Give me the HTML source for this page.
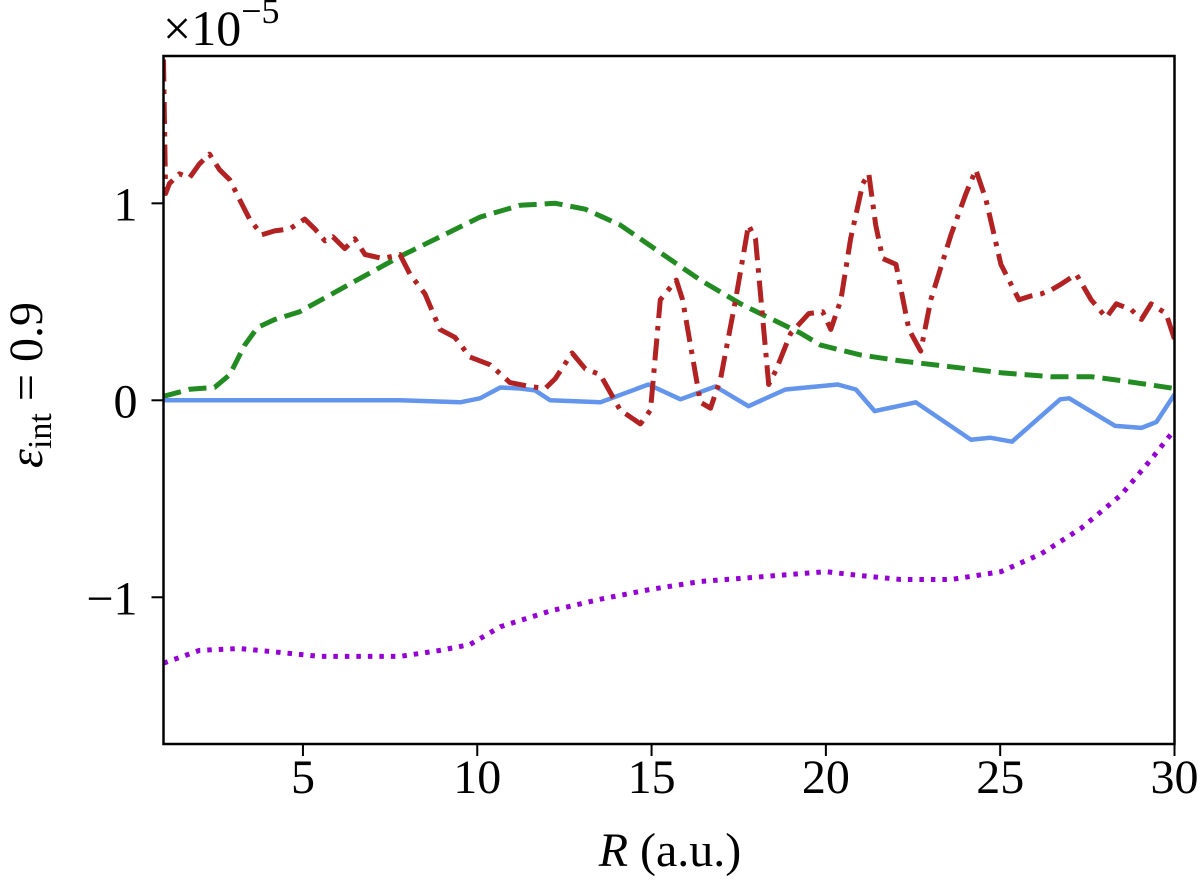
<!DOCTYPE html>
<html><head><meta charset="utf-8"><style>
html,body{margin:0;padding:0;background:#fff}
svg{display:block}
text{font-family:"Liberation Serif","DejaVu Serif",serif;fill:#000}
</style></head><body>
<svg id="chart" width="1200" height="889" viewBox="0 0 1200 889" xmlns="http://www.w3.org/2000/svg">
<g id="series"></g>
<rect x="163.5" y="56" width="1011" height="688" fill="none" stroke="#000" stroke-width="2.5"/>
<g id="ticks"></g>
<text x="163" y="45" font-size="50">×10<tspan font-size="36" dy="-22">−5</tspan></text>
<text x="670" y="866" font-size="48" text-anchor="middle"><tspan font-style="italic">R</tspan> (a.u.)</text>
<text transform="translate(42,385) rotate(-90)" font-size="48" text-anchor="middle"><tspan font-style="italic">ε</tspan><tspan font-size="34" dy="9">int</tspan><tspan dy="-9"> = 0.9</tspan></text>
</svg>
<script>
const xTicks=[5,10,15,20,25,30];
const yTicks=[-1,0,1];
const yTickLabels=["−1","0","1"];
const redR=[1.0,1.06,1.17,1.46,1.75,2.03,2.32,2.61,2.90,3.18,3.47,3.82,4.19,4.62,5.05,5.34,5.63,5.86,6.20,6.49,6.78,7.29,7.78,8.07,8.50,8.93,9.36,9.79,10.37,10.94,11.52,11.95,12.24,12.72,13.10,13.53,14.10,14.68,14.97,15.25,15.71,15.89,16.40,16.69,16.98,17.41,17.78,17.98,18.36,18.56,18.99,19.51,19.91,20.14,20.43,20.71,21.06,21.23,21.43,21.63,22.01,22.38,22.72,23.01,23.59,24.02,24.30,24.59,25.02,25.54,25.89,26.17,26.46,26.75,27.18,27.61,28.04,28.33,28.76,29.05,29.33,29.76,30.0];
const redV=[1.73,1.05,1.10,1.15,1.13,1.20,1.25,1.17,1.12,1.02,0.92,0.84,0.86,0.87,0.92,0.87,0.81,0.83,0.77,0.82,0.74,0.72,0.74,0.64,0.54,0.36,0.32,0.22,0.18,0.09,0.07,0.06,0.11,0.24,0.16,0.13,-0.05,-0.12,-0.05,0.51,0.61,0.51,-0.01,-0.04,0.11,0.51,0.89,0.82,0.08,0.15,0.34,0.44,0.45,0.36,0.51,0.82,1.10,1.15,0.89,0.72,0.69,0.36,0.25,0.51,0.84,1.05,1.17,1.02,0.69,0.51,0.53,0.54,0.56,0.59,0.64,0.51,0.42,0.49,0.46,0.41,0.49,0.44,0.31];
const greenR=[1,1.75,2.47,2.9,3.33,3.70,4.19,4.91,6.34,7.78,8.93,10.08,11.23,12.24,13.10,14.10,15.25,16.40,17.55,19.28,19.85,21.0,22.15,23.59,25.02,26.46,27.61,28.47,30];
const greenV=[0.02,0.056,0.066,0.13,0.28,0.37,0.41,0.45,0.59,0.73,0.83,0.93,0.99,1.0,0.97,0.89,0.75,0.61,0.49,0.34,0.28,0.23,0.20,0.17,0.14,0.12,0.12,0.10,0.06];
const blueR=[1,4.91,7.78,9.51,10.08,10.66,11.23,11.66,12.09,13.53,14.91,15.83,16.83,17.78,18.84,20.34,20.86,21.40,22.58,24.16,24.71,25.34,26.72,26.98,28.30,29.05,29.48,30];
const blueV=[0,0,0,-0.01,0.01,0.065,0.06,0.05,0.0,-0.01,0.08,0.005,0.07,-0.03,0.055,0.08,0.055,-0.055,-0.01,-0.2,-0.19,-0.21,0.005,0.01,-0.13,-0.14,-0.11,0.03];
const purpleR=[1,2.03,3.18,4.33,5.48,6.63,7.78,8.93,9.79,10.66,12.09,13.53,14.97,16.40,17.84,19.28,20.0,21.0,22.15,23.59,25.02,26.17,27.32,28.47,29.33,30];
const purpleV=[-1.335,-1.27,-1.26,-1.28,-1.30,-1.30,-1.30,-1.27,-1.24,-1.15,-1.07,-1.01,-0.96,-0.92,-0.90,-0.88,-0.87,-0.89,-0.91,-0.91,-0.87,-0.78,-0.65,-0.48,-0.30,-0.15];

const X0=163.5,X1=1174.5,Y0=744,Y1=56;
const xMin=1,xMax=30,yMin=-1.745,yMax=1.748;
function sx(v){return X0+(v-xMin)/(xMax-xMin)*(X1-X0);}
function sy(v){return Y0-(v-yMin)/(yMax-yMin)*(Y0-Y1);}
const NS="http://www.w3.org/2000/svg";
const series=document.getElementById('series');
const ticks=document.getElementById('ticks');

const clip=document.createElementNS(NS,'clipPath');
clip.setAttribute('id','clipPlot');
const cr=document.createElementNS(NS,'rect');
cr.setAttribute('x',X0);cr.setAttribute('y',Y1);cr.setAttribute('width',X1-X0);cr.setAttribute('height',Y0-Y1);
clip.appendChild(cr);
series.appendChild(clip);
series.setAttribute('clip-path','url(#clipPlot)');

function line(xs,ys,color,dash,w,name){
  const p=document.createElementNS(NS,'path');
  let d='';
  for(let i=0;i<xs.length;i++){d+=(i?'L':'M')+sx(xs[i]).toFixed(1)+','+sy(ys[i]).toFixed(1);}
  p.setAttribute('d',d);
  p.setAttribute('fill','none');
  p.setAttribute('stroke',color);
  p.setAttribute('stroke-width',w);
  p.setAttribute('stroke-linejoin','round');
  if(dash)p.setAttribute('stroke-dasharray',dash);
  
  
  series.appendChild(p);
}
line(purpleR,purpleV,'#9400d3','4.5 7',5,'purple-dotted-line');
line(greenR,greenV,'#228b22','18 8',5,'green-dashed-line');
line(blueR,blueV,'#6495ed','',4.5,'blue-solid-line');
line(redR,redV,'#b22222','22 8 4.5 8',5,'red-dashdot-line');

xTicks.forEach(function(v){
  const t=document.createElementNS(NS,'line');
  t.setAttribute('x1',sx(v));t.setAttribute('x2',sx(v));t.setAttribute('y1',Y0);t.setAttribute('y2',Y0+12);
  t.setAttribute('stroke','#000');t.setAttribute('stroke-width','2');
  
  
  ticks.appendChild(t);
  const l=document.createElementNS(NS,'text');
  l.setAttribute('x',sx(v));l.setAttribute('y',Y0+49);l.setAttribute('font-size','48');l.setAttribute('text-anchor','middle');
  l.textContent=String(v);
  
  
  ticks.appendChild(l);
});
yTicks.forEach(function(v,i){
  const t=document.createElementNS(NS,'line');
  t.setAttribute('x1',X0-12);t.setAttribute('x2',X0);t.setAttribute('y1',sy(v));t.setAttribute('y2',sy(v));
  t.setAttribute('stroke','#000');t.setAttribute('stroke-width','2');
  
  
  ticks.appendChild(t);
  const l=document.createElementNS(NS,'text');
  l.setAttribute('x',X0-26);l.setAttribute('y',sy(v)+17);l.setAttribute('font-size','48');l.setAttribute('text-anchor','end');
  l.textContent=yTickLabels[i];
  
  
  ticks.appendChild(l);
});
</script>
</body></html>
